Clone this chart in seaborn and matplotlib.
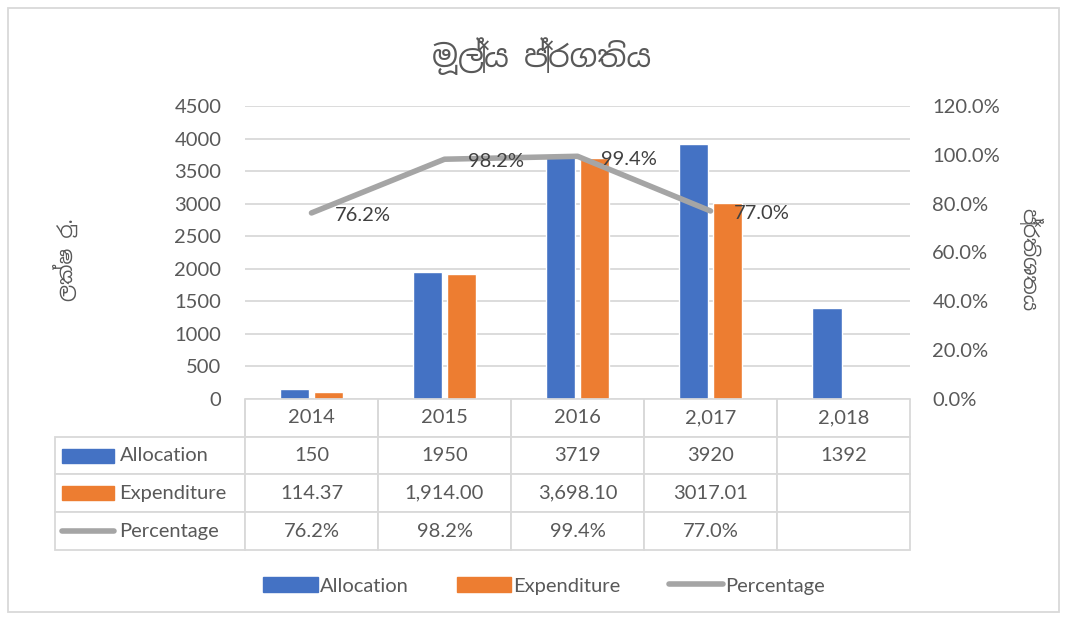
import matplotlib

matplotlib.use("Agg")
import matplotlib.pyplot as plt
import numpy as np
import pandas as pd
import seaborn as sns
from matplotlib.lines import Line2D
from matplotlib.patches import Patch, Rectangle

# data
years = ["2014", "2015", "2016", "2,017", "2,018"]
allocation = [150, 1950, 3719, 3920, 1392]
expenditure = [114.37, 1914.00, 3698.10, 3017.01, np.nan]
percentage = [0.762, 0.982, 0.994, 0.770]
alloc_text = ["150", "1950", "3719", "3920", "1392"]
exp_text = ["114.37", "1,914.00", "3,698.10", "3017.01", ""]
pct_text = ["76.2%", "98.2%", "99.4%", "77.0%", ""]

title = "මූල්‍ය ප්‍රගතිය"
left_label = "ලක්ෂ රු."
right_label = "ප්‍රතිශතය"

BLUE = "#4472C4"
ORANGE = "#ED7D31"
GRAY = "#A5A5A5"
TEXT = "#595959"
GRID = "#D9D9D9"

sns.set_theme(style="white")
plt.rcParams["font.family"] = ["Lato", "DejaVu Sans"]
plt.rcParams["text.color"] = TEXT
sinhala = ["Noto Sans Sinhala", "Lato", "DejaVu Sans"]

df = pd.DataFrame(
    {
        "year": years * 2,
        "value": allocation + expenditure,
        "series": ["Allocation"] * 5 + ["Expenditure"] * 5,
    }
)

fig = plt.figure(figsize=(10.67, 6.18), dpi=100)
ax = fig.add_axes([0.2296, 0.3544, 0.6233, 0.4741])

sns.barplot(
    data=df,
    x="year",
    y="value",
    hue="series",
    order=years,
    palette=[BLUE, ORANGE],
    width=0.51,
    gap=0.12,
    saturation=1,
    legend=False,
    ax=ax,
)
ax.set_xlim(-0.5, len(years) - 0.5)
ax.set_ylim(0, 4500)
ax.set_yticks(np.arange(0, 4501, 500))
ax.yaxis.grid(True, color=GRID, linewidth=1.3)
ax.set_axisbelow(True)
ax.tick_params(axis="y", labelsize=14.5, labelcolor=TEXT, length=0, pad=17)
ax.set_xticks([])
ax.set_xlabel("")
ax.set_ylabel("")
for s in ["top", "right", "left"]:
    ax.spines[s].set_visible(False)
ax.spines["bottom"].set_color(GRID)

ax2 = ax.twinx()
sns.lineplot(
    x=np.arange(len(percentage)),
    y=percentage,
    color=GRAY,
    linewidth=4,
    solid_capstyle="round",
    ax=ax2,
)
ax2.set_ylim(0, 1.2)
ax2.set_yticks(np.arange(0, 1.21, 0.2))
ax2.set_yticklabels([f"{v * 100:.1f}%" for v in np.arange(0, 1.21, 0.2)])
ax2.tick_params(axis="y", labelsize=14.5, labelcolor=TEXT, length=0, pad=16)
for s in ax2.spines.values():
    s.set_visible(False)
for i, p in enumerate(percentage):
    ax2.annotate(
        pct_text[i], (i, p), xytext=(17, -2), textcoords="offset points",
        ha="left", va="center", fontsize=14.5, color="#404040",
    )

# data table below the plot
label_w = 190 / 665
cell_rows = [[""] + years, ["Allocation"] + alloc_text,
             ["Expenditure"] + exp_text, ["Percentage"] + pct_text]
tbl = ax.table(
    cellText=cell_rows,
    colWidths=[label_w] + [1 / len(years)] * len(years),
    cellLoc="center",
    bbox=[-label_w, -0.515, 1 + label_w, 0.515],
)
tbl.auto_set_font_size(False)
for (r, c), cell in tbl.get_celld().items():
    cell.set_edgecolor(GRID)
    cell.set_linewidth(1.3)
    cell.get_text().set_fontsize(14.5)
    cell.get_text().set_color(TEXT)
    if c == 0:
        cell.get_text().set_ha("left")
        cell.PAD = 0.34
    if r == 0 and c == 0:
        cell.visible_edges = "R"
    elif r == 0:
        cell.visible_edges = "LRB"

# legend keys inside the table's row header cells
row_h = 0.515 / 4
key_x0 = -label_w + 7 / 665
key_w = 52 / 665
for k, color in enumerate([BLUE, ORANGE]):
    yc = -row_h * (k + 1.5)
    ax.add_patch(Rectangle((key_x0, yc - 0.024), key_w, 0.048, color=color,
                           transform=ax.transAxes, clip_on=False))
yc = -row_h * 3.5
ax.add_line(Line2D([key_x0, key_x0 + key_w], [yc, yc], color=GRAY, linewidth=4,
                   solid_capstyle="round", transform=ax.transAxes, clip_on=False))

handles = [
    Patch(color=BLUE, label="Allocation"),
    Patch(color=ORANGE, label="Expenditure"),
    Line2D([0], [0], color=GRAY, linewidth=4, solid_capstyle="round", label="Percentage"),
]
fig.legend(
    handles=handles, loc="center", bbox_to_anchor=(0.51, 0.052), ncol=3,
    frameon=False, fontsize=14.5, handlelength=2.7, handleheight=0.75,
    handletextpad=0.1, columnspacing=2.4, labelcolor=TEXT,
)

fig.text(0.508, 0.91, title, ha="center", va="center", fontsize=22,
         color=TEXT, family=sinhala)
fig.text(0.061, 0.58, left_label, ha="center", va="center", rotation=90,
         fontsize=14.5, color=TEXT, family=sinhala)
fig.text(0.965, 0.58, right_label, ha="center", va="center", rotation=270,
         fontsize=14.5, color=TEXT, family=sinhala)

fig.patches.append(Rectangle((0.0075, 0.01), 0.985, 0.977, transform=fig.transFigure,
                             fill=False, edgecolor=GRID, linewidth=1.3))

fig.savefig("out.png", dpi=100, facecolor="white")
plt.close(fig)
